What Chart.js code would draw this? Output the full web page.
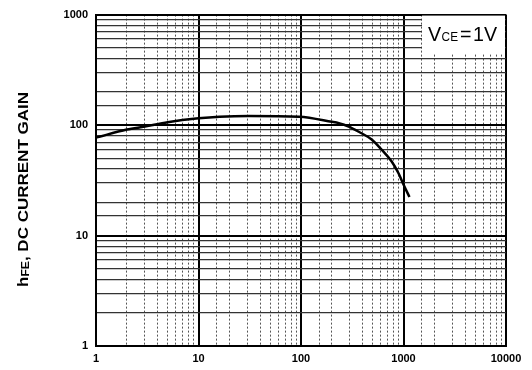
<!DOCTYPE html>
<html>
<head>
<meta charset="utf-8">
<script src="https://cdn.jsdelivr.net/npm/chart.js@4/dist/chart.umd.min.js"></script>
<style>
html,body{margin:0;padding:0;background:#fff;}
#wrap{width:532px;height:370px;position:relative;}
</style>
</head>
<body>
<div id="wrap"><canvas id="c" width="532" height="370"></canvas></div>
<script>
// Collector current IC (mA) and DC current gain hFE
const collectorCurrent = [1, 2, 3, 5, 10, 16, 31, 96, 200, 234, 292, 366, 489, 611, 764, 894, 1000, 1143];
const currentGain      = [77, 91, 97, 106, 115, 119, 121, 119, 107, 104, 97, 87, 74, 60, 47, 36.6, 29, 22.3];
const xTickLabels = ['1', '10', '100', '1000', '10000'];
const yTickLabels = ['1', '10', '100', '1000'];
const yTitleParts = ['h', 'FE', ', DC CURRENT GAIN'];
const legendParts = ['V', 'CE', '=', '1V'];

const FONT = '"Liberation Sans", Arial, sans-serif';
function isMajor(v){ const l = Math.log10(v); return Math.abs(l - Math.round(l)) < 1e-6; }

const annot = {
  id: 'annot',
  beforeDatasetsDraw(chart){
    const ctx = chart.ctx;
    const a = chart.chartArea;
    // legend box
    ctx.save();
    ctx.fillStyle = '#fff';
    ctx.fillRect(422, a.top + 1, a.right - 1 - 422, 38);
    ctx.fillStyle = '#000';
    ctx.textBaseline = 'alphabetic';
    const sizes = [20, 12, 20, 20];
    let w = 0;
    const ws = legendParts.map((t, i) => { ctx.font = sizes[i] + 'px ' + FONT; const m = ctx.measureText(t).width + (i===2 ? 3 : 0) + (i===1?1:0); w += m; return m; });
    const k = 69 / w;
    ctx.translate(428, 41);
    ctx.scale(k, 1);
    let x = 0;
    legendParts.forEach((t, i) => {
      ctx.font = sizes[i] + 'px ' + FONT;
      ctx.fillText(t, x + (i===2 ? 1.5 : 0) + (i===1?0.5:0), 0);
      x += ws[i];
    });
    ctx.restore();
  },
  afterDraw(chart){
    const ctx = chart.ctx;
    ctx.save();
    ctx.fillStyle = '#000';
    const sizes = [14, 10, 14];
    const offs = [0, 0.5, 0];
    let w = 0;
    const ws = yTitleParts.map((t, i) => { ctx.font = 'bold ' + sizes[i] + 'px ' + FONT; const m = ctx.measureText(t).width; w += m; return m; });
    const k = 195 / w;
    ctx.translate(28, 189.5);
    ctx.rotate(-Math.PI / 2);
    ctx.scale(k, 1);
    let x = -w / 2;
    yTitleParts.forEach((t, i) => {
      ctx.font = 'bold ' + sizes[i] + 'px ' + FONT;
      ctx.fillText(t, x, offs[i]);
      x += ws[i];
    });
    ctx.restore();
  }
};

const tickFont = { family: FONT, weight: 'bold', size: 11 };

new Chart(document.getElementById('c'), {
  type: 'line',
  data: {
    datasets: [{
      data: collectorCurrent.map((c, i) => ({ x: c, y: currentGain[i] })),
      borderColor: '#000',
      borderWidth: 2.5,
      pointRadius: 0,
      cubicInterpolationMode: 'monotone',
      fill: false
    }]
  },
  options: {
    responsive: false,
    animation: false,
    devicePixelRatio: 1,
    layout: { padding: { top: 12, right: 26, bottom: 0, left: 0 } },
    plugins: { legend: { display: false }, tooltip: { enabled: false }, title: { display: false } },
    scales: {
      x2: {
        type: 'logarithmic', position: 'bottom', min: 1, max: 10000,
        afterFit(s){ s.height = 0; },
        ticks: { display: false, autoSkip: false },
        grid: {
          drawTicks: false,
          color: ctx => (ctx.tick && isMajor(ctx.tick.value)) ? 'rgba(0,0,0,0)' : '#555',
          lineWidth: 1
        },
        border: { display: false, dash: [2, 2] }
      },
      x: {
        type: 'logarithmic', position: 'bottom', min: 1, max: 10000,
        afterFit(s){ s.height = 24; },
        ticks: {
          autoSkip: false, maxRotation: 0, minRotation: 0, color: '#000', font: tickFont, padding: 6,
          callback: (v) => isMajor(v) ? xTickLabels[Math.round(Math.log10(v))] : ''
        },
        grid: {
          drawTicks: false,
          color: ctx => (ctx.tick && isMajor(ctx.tick.value)) ? '#000' : 'rgba(0,0,0,0)',
          lineWidth: 2
        },
        border: { color: '#000', width: 2 }
      },
      y: {
        type: 'logarithmic', position: 'left', min: 1, max: 1000,
        afterFit(s){ s.width = 96; },
        ticks: {
          autoSkip: false, color: '#000', font: tickFont, padding: 8,
          callback: (v) => isMajor(v) ? yTickLabels[Math.round(Math.log10(v))] : ''
        },
        grid: {
          drawTicks: false,
          color: ctx => (ctx.tick && isMajor(ctx.tick.value)) ? '#000' : '#333',
          lineWidth: ctx => (ctx.tick && isMajor(ctx.tick.value)) ? 2 : 1.3
        },
        border: { color: '#000', width: 2 }
      }
    }
  },
  plugins: [annot]
});
</script>
</body>
</html>
